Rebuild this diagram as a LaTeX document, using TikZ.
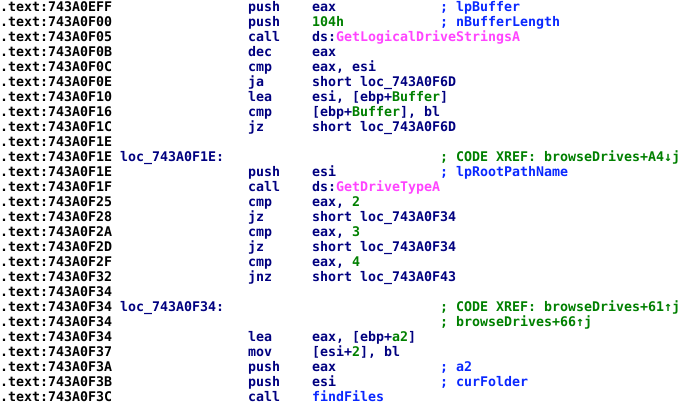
\documentclass[tikz,border=0pt]{standalone}
\usepackage{fontspec}
\setmonofont{DejaVu Sans Mono}[BoldFont={DejaVu Sans Mono Bold}]
\definecolor{idanavy}{HTML}{000080}
\definecolor{idagreen}{HTML}{008000}
\definecolor{idablue}{HTML}{0A28FF}
\definecolor{idamag}{HTML}{FF44FF}
\tikzset{
  asmtext/.style={inner sep=0pt, outer sep=0pt, anchor=base west,
    font=\ttfamily\bfseries\fontsize{13.29pt}{15pt}\selectfont\frenchspacing},
  addrtxt/.style={asmtext, text=black},
  insntxt/.style={asmtext, text=idanavy},
  cmttxt/.style={asmtext, text=idablue},
  xreftxt/.style={asmtext, text=idagreen}
}
% #1 line index, #2 column, #3 style, #4 name, #5 text
\newcommand{\asmput}[5]{\node[#3] (#4) at ({8*#2},{-11.8-15*#1}) {#5};}
\newcommand{\AD}[2]{\asmput{#1}{0}{addrtxt}{addr#1}{#2}}
\newcommand{\LB}[2]{\asmput{#1}{15}{insntxt}{lab#1}{#2}}
\newcommand{\MN}[2]{\asmput{#1}{31}{insntxt}{mn#1}{#2}}
\newcommand{\OP}[2]{\asmput{#1}{39}{insntxt}{op#1}{#2}}
\newcommand{\CM}[2]{\asmput{#1}{55}{cmttxt}{cm#1}{#2}}
\newcommand{\XR}[2]{\asmput{#1}{55}{xreftxt}{cm#1}{#2}}
\newcommand{\gr}[1]{\textcolor{idagreen}{#1}}
\newcommand{\mg}[1]{\textcolor{idamag}{#1}}
\newcommand{\bl}[1]{\textcolor{idablue}{#1}}
\begin{document}
\begin{tikzpicture}[x=1pt,y=1pt]
\fill[white] (0,0) rectangle (686,-407);
\useasboundingbox (0,0) rectangle (686,-407);
\AD{0}{.text:743A0EFF}\MN{0}{push}\OP{0}{eax}\CM{0}{; lpBuffer}
\AD{1}{.text:743A0F00}\MN{1}{push}\OP{1}{\gr{104h}}\CM{1}{; nBufferLength}
\AD{2}{.text:743A0F05}\MN{2}{call}\OP{2}{ds:\mg{GetLogicalDriveStringsA}}
\AD{3}{.text:743A0F0B}\MN{3}{dec}\OP{3}{eax}
\AD{4}{.text:743A0F0C}\MN{4}{cmp}\OP{4}{eax, esi}
\AD{5}{.text:743A0F0E}\MN{5}{ja}\OP{5}{short loc\_743A0F6D}
\AD{6}{.text:743A0F10}\MN{6}{lea}\OP{6}{esi, [ebp+\gr{Buffer}]}
\AD{7}{.text:743A0F16}\MN{7}{cmp}\OP{7}{[ebp+\gr{Buffer}], bl}
\AD{8}{.text:743A0F1C}\MN{8}{jz}\OP{8}{short loc\_743A0F6D}
\AD{9}{.text:743A0F1E}
\AD{10}{.text:743A0F1E}\LB{10}{loc\_743A0F1E:}\XR{10}{; CODE XREF: browseDrives+A4↓j}
\AD{11}{.text:743A0F1E}\MN{11}{push}\OP{11}{esi}\CM{11}{; lpRootPathName}
\AD{12}{.text:743A0F1F}\MN{12}{call}\OP{12}{ds:\mg{GetDriveTypeA}}
\AD{13}{.text:743A0F25}\MN{13}{cmp}\OP{13}{eax, \gr{2}}
\AD{14}{.text:743A0F28}\MN{14}{jz}\OP{14}{short loc\_743A0F34}
\AD{15}{.text:743A0F2A}\MN{15}{cmp}\OP{15}{eax, \gr{3}}
\AD{16}{.text:743A0F2D}\MN{16}{jz}\OP{16}{short loc\_743A0F34}
\AD{17}{.text:743A0F2F}\MN{17}{cmp}\OP{17}{eax, \gr{4}}
\AD{18}{.text:743A0F32}\MN{18}{jnz}\OP{18}{short loc\_743A0F43}
\AD{19}{.text:743A0F34}
\AD{20}{.text:743A0F34}\LB{20}{loc\_743A0F34:}\XR{20}{; CODE XREF: browseDrives+61↑j}
\AD{21}{.text:743A0F34}\XR{21}{; browseDrives+66↑j}
\AD{22}{.text:743A0F34}\MN{22}{lea}\OP{22}{eax, [ebp+\gr{a2}]}
\AD{23}{.text:743A0F37}\MN{23}{mov}\OP{23}{[esi+\gr{2}], bl}
\AD{24}{.text:743A0F3A}\MN{24}{push}\OP{24}{eax}\CM{24}{; a2}
\AD{25}{.text:743A0F3B}\MN{25}{push}\OP{25}{esi}\CM{25}{; curFolder}
\AD{26}{.text:743A0F3C}\MN{26}{call}\OP{26}{\bl{findFiles}}
\end{tikzpicture}
\end{document}
